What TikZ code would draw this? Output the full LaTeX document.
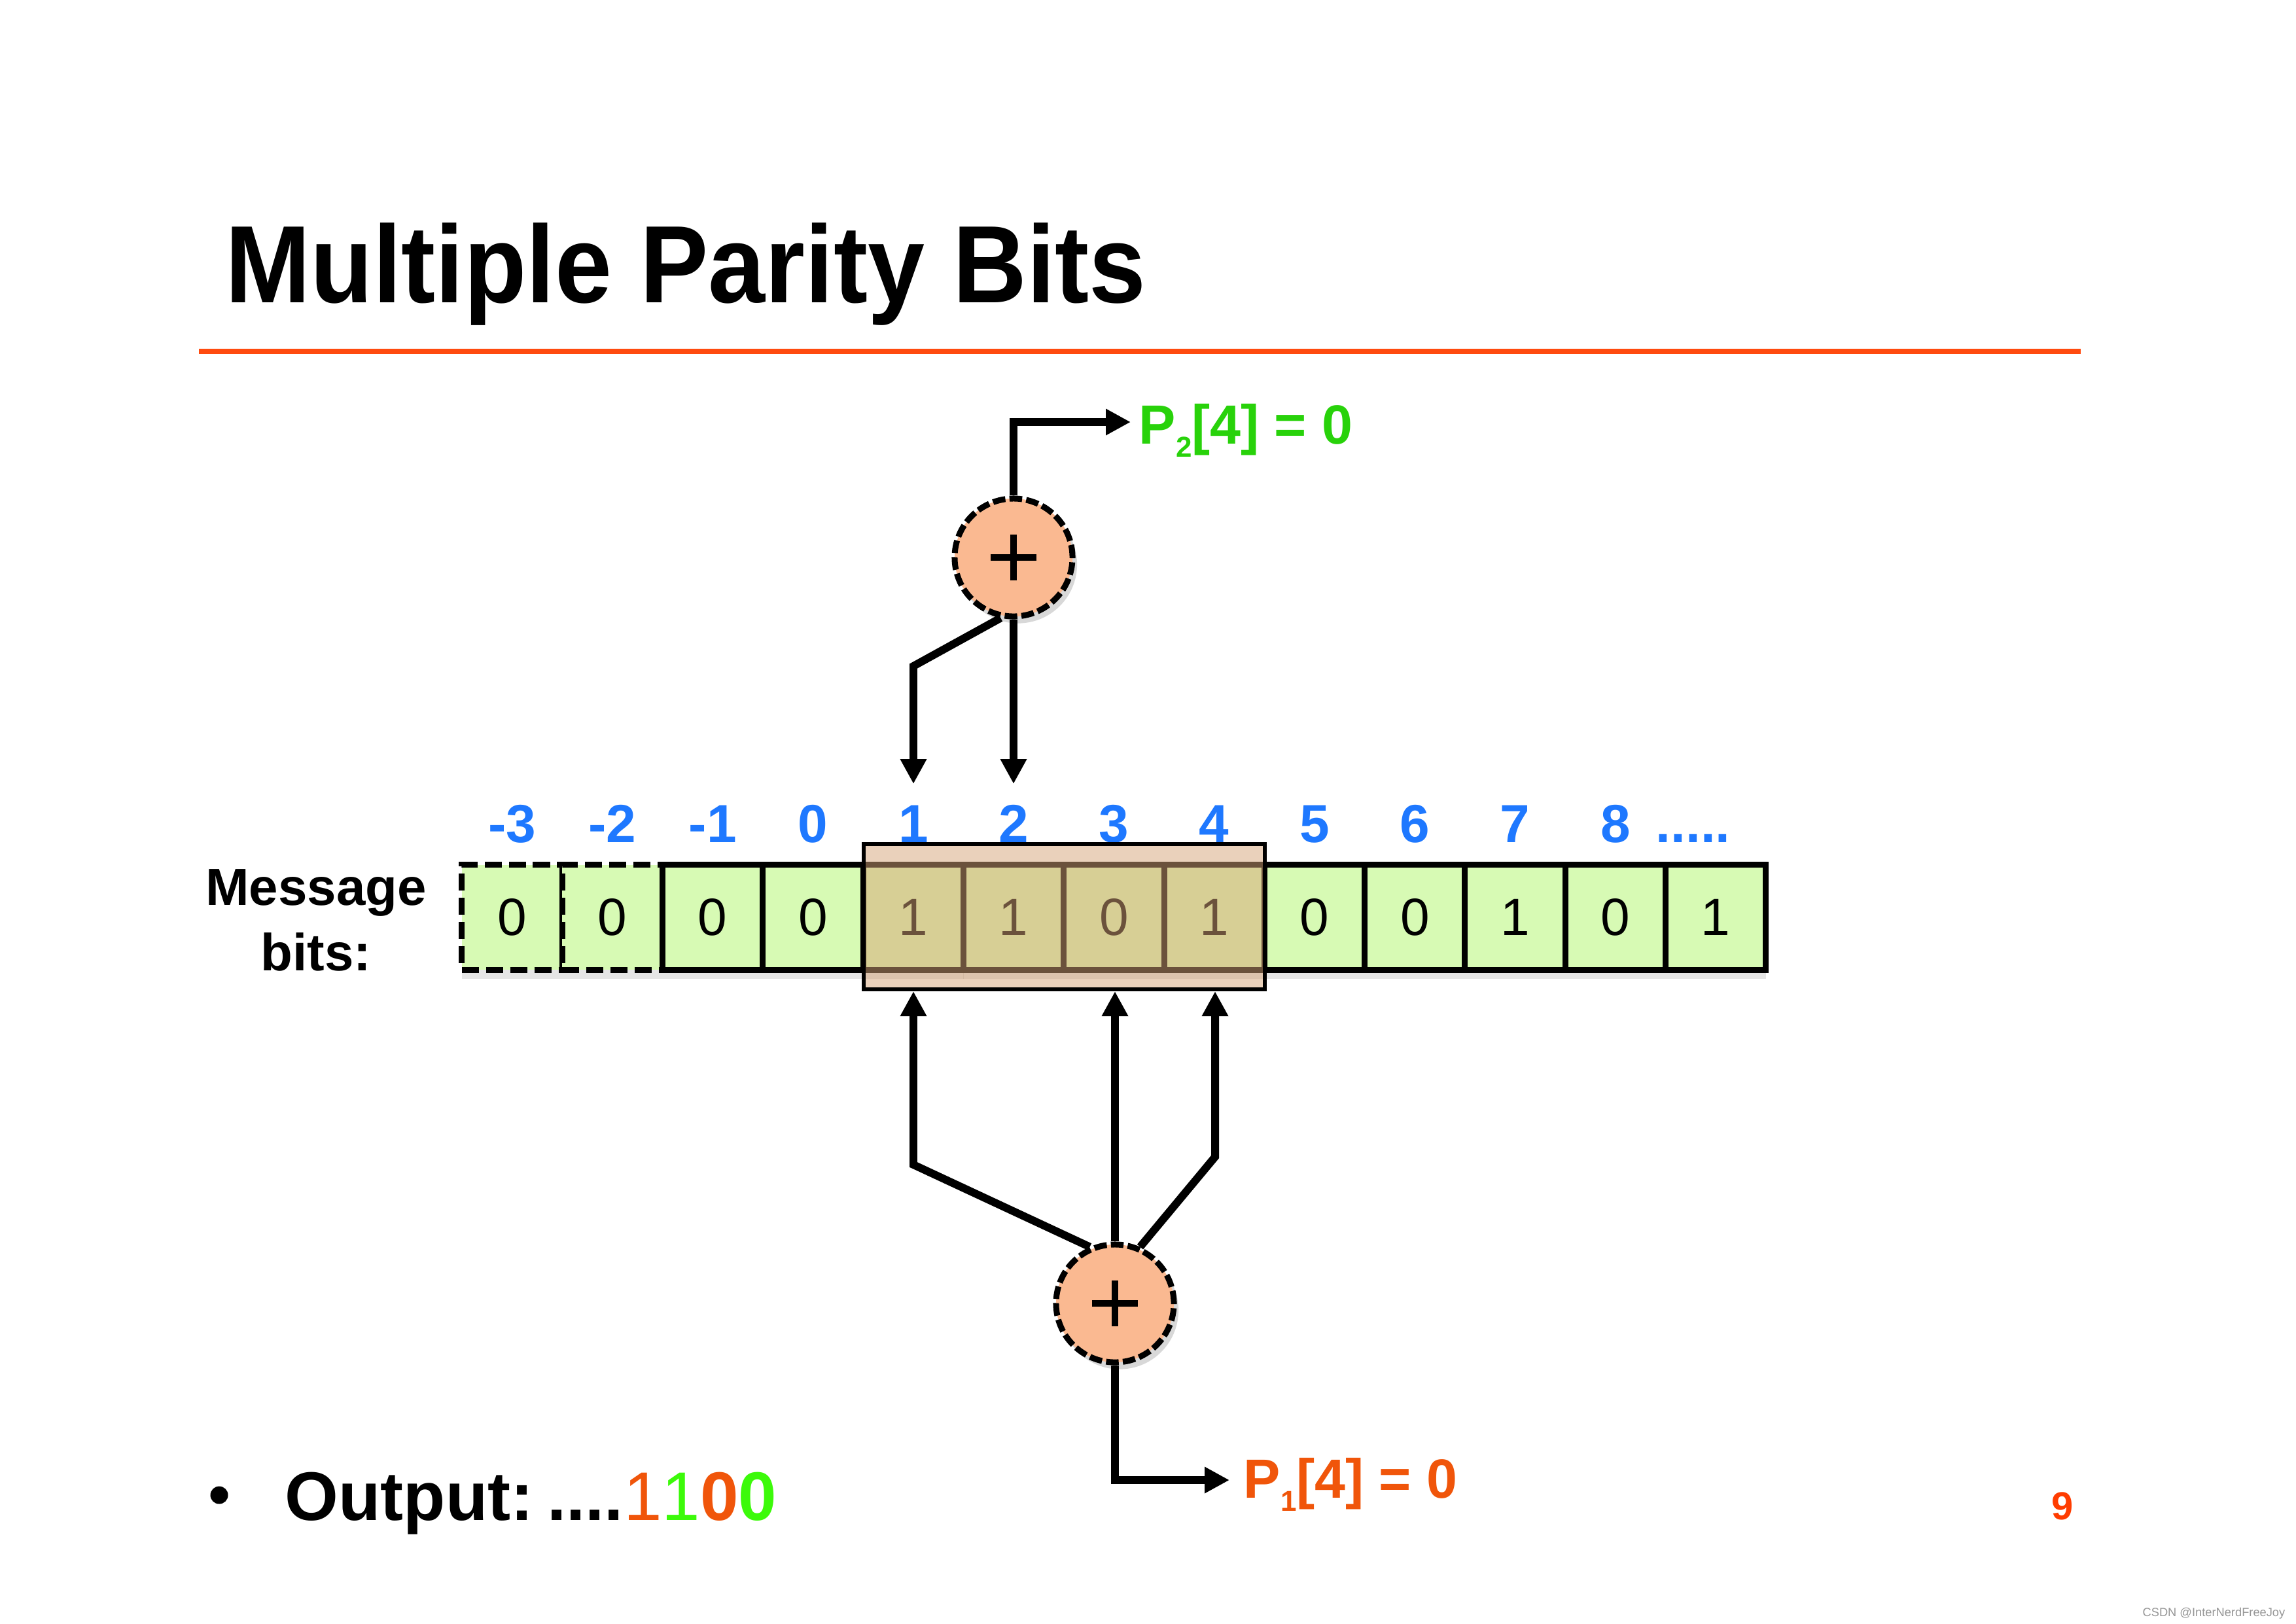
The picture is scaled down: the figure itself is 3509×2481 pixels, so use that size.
\documentclass[tikz,border=0pt]{standalone}
\usepackage{fontspec}
\usepackage{graphicx}
\setmainfont{Liberation Sans}
\usetikzlibrary{arrows.meta,shadows,calc}
\definecolor{cellgreen}{RGB}{215,250,180}
\definecolor{idxblue}{RGB}{30,120,255}
\definecolor{ptwo}{RGB}{40,210,10}
\definecolor{pone}{RGB}{240,85,10}
\definecolor{outgreen}{RGB}{60,250,10}
\definecolor{adderfill}{RGB}{250,185,145}
\definecolor{rulecol}{RGB}{255,75,15}
\definecolor{hlcol}{RGB}{215,165,120}
\definecolor{pagenum}{RGB}{255,60,0}
\definecolor{wmgray}{RGB}{150,150,150}
\begin{document}
\begin{tikzpicture}[x=0.01cm,y=-0.01cm,
  cellbox/.style={draw=black, line width=2.56pt, fill=cellgreen, minimum width=1.533cm, minimum height=1.6cm, inner sep=0pt,
    font=\fontsize{22.8pt}{27pt}\selectfont, drop shadow={opacity=0.2, shadow xshift=0pt, shadow yshift=-4pt}},
  ghostcell/.style={cellbox, dash pattern=on 7.4pt off 3.1pt},
  idx/.style={font=\fontsize{23.3pt}{28pt}\selectfont\bfseries, text=idxblue, inner sep=0pt, anchor=base},
  adder/.style={circle, draw=black, fill=adderfill, line width=2.56pt, dash pattern=on 5.5pt off 1.8pt,
    minimum size=1.8cm, inner sep=0pt, drop shadow={opacity=0.3, shadow xshift=2pt, shadow yshift=-3pt},
    path picture={\draw[solid, line width=2.85pt, black]
      ([xshift=-0.35cm]path picture bounding box.center) -- ([xshift=0.35cm]path picture bounding box.center)
      ([yshift=-0.35cm]path picture bounding box.center) -- ([yshift=0.35cm]path picture bounding box.center);}},
  conn/.style={line width=3.4pt, draw=black, -{Triangle[length=10.8pt,width=10.8pt]}, line join=miter},
  plabel/.style={font=\fontsize{24pt}{29pt}\selectfont\bfseries, inner sep=0pt, anchor=base west},
  txt/.style={inner sep=0pt, anchor=base},
]
\fill[white] (0,0) rectangle (3509,2481);
\useasboundingbox (0,0) rectangle (3509,2481);

% title and rule
\node[anchor=base west, inner sep=0pt, font=\fontsize{47.8pt}{57pt}\selectfont\bfseries] (title) at (344,462)
  {\scalebox{0.93}[1]{Multiple Parity Bits}};
\draw[rulecol, line width=2pt] (304,537) -- (3180,537);

% message bits label
\node[txt, font=\fontsize{22.7pt}{27pt}\selectfont\bfseries] (msg1) at (483,1383) {Message};
\node[txt, font=\fontsize{22.7pt}{27pt}\selectfont\bfseries] (msg2) at (483,1483) {bits:};

% cells
\foreach \v [count=\k from 0] in {0,0,0,0,1,1,0,1,0,0,1,0,1}{
  \pgfmathsetmacro{\cx}{706+153.3*(\k+0.5)}
  \ifnum\k<2
    \node[ghostcell] (cell\k) at (\cx,1402) {\v};
  \else
    \node[cellbox] (cell\k) at (\cx,1402) {\v};
  \fi
}

% index labels
\foreach \lab [count=\k from 0] in {-3,-2,-1,0,1,2,3,4,5,6,7,8}{
  \pgfmathsetmacro{\cx}{706+153.3*(\k+0.5)}
  \node[idx] (lab\k) at (\cx,1287) {\lab};
}
\node[idx, anchor=base west] (dots) at (2530,1287) {.....};

% highlight window
\node[draw=black, line width=1.7pt, fill=hlcol, fill opacity=0.5, minimum width=6.13cm, minimum height=2.22cm, inner sep=0pt] (hl) at (1626.5,1401) {};

% adders
\node[adder] (ad2) at (1549,852) {};
\node[adder] (ad1) at (1704,1992) {};

% top adder connectors
\coordinate (t2) at (1728,645);
\coordinate (d1) at (1396,1198);
\coordinate (d2) at (1549,1198);
\coordinate (b3) at (1396,1018);
\draw[conn] (ad2.north) |- (t2);
\draw[conn] (ad2.south) -- (d2);
\draw[conn] (ad2.258) -- (b3) -- (d1);

% bottom adder connectors
\coordinate (b1) at (1396,1780);
\coordinate (b2) at (1857,1768);
\coordinate (t1) at (1879,2262);
\draw[conn] (ad1.north) -- (ad1.north |- hl.south);
\draw[conn] (ad1.114) -- (b1) -- (b1 |- hl.south);
\draw[conn] (ad1.66) -- (b2) -- (b2 |- hl.south);
\draw[conn] (ad1.south) |- (t1);

% parity labels
\node[plabel, text=ptwo] (p2) at (1740,678) {P\raisebox{-0.24em}{\fontsize{12.5pt}{14pt}\selectfont 2}[4] = 0};
\node[plabel, text=pone] (p1) at (1900,2289) {P\raisebox{-0.24em}{\fontsize{12.5pt}{14pt}\selectfont 1}[4] = 0};

% output bullet
\node[circle, fill=black, minimum size=0.27cm, inner sep=0pt] (bul) at (335,2285) {};
\node[anchor=base west, inner sep=0pt, font=\fontsize{29.9pt}{36pt}\selectfont\bfseries] (out) at (435,2323)
  {Output:\hspace{0.2em}....\textcolor{pone}{\mdseries 1}\textcolor{outgreen}{\mdseries 1}\textcolor{pone}{0}\textcolor{outgreen}{0}};

% page number and watermark
\node[font=\fontsize{17pt}{20pt}\selectfont\bfseries, text=pagenum, inner sep=0pt] (pg) at (3152,2302) {9};
\node[anchor=base east, font=\fontsize{5.2pt}{6pt}\selectfont, text=wmgray, inner sep=0pt] (wm) at (3493,2470) {CSDN @InterNerdFreeJoy};
\end{tikzpicture}
\end{document}
